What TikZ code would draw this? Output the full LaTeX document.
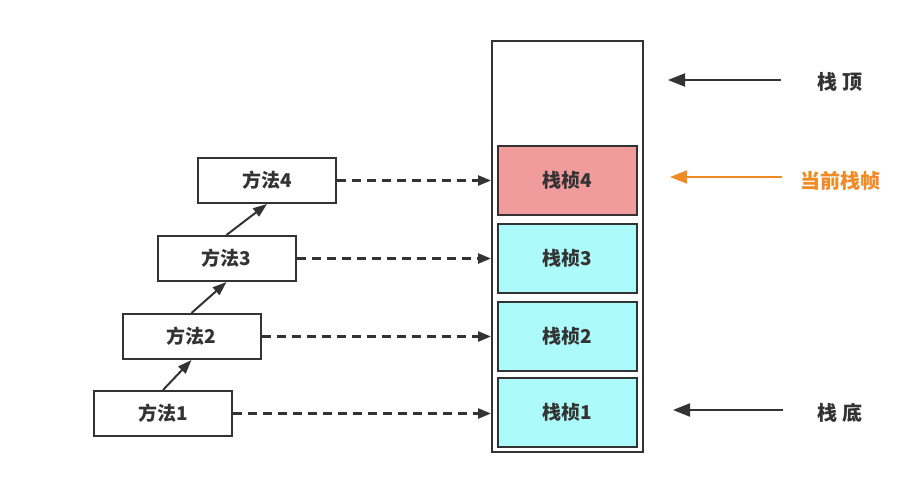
\documentclass[tikz,border=0pt]{standalone}
\usepackage{fontspec}
\setmainfont{Noto Sans CJK SC}
\usepackage{tikz}
\usetikzlibrary{arrows.meta,positioning}
\definecolor{skLine}{HTML}{333333}
\definecolor{skFrame}{HTML}{ADFAFA}
\definecolor{skCurrent}{HTML}{F09C9C}
\definecolor{skOrange}{HTML}{F08A24}
\tikzset{
  method/.style={
    draw=skLine, line width=2pt, fill=white, minimum width=138pt, minimum height=45pt,
    font=\fontsize{19}{22}\selectfont\bfseries, text=skLine
  },
  frame/.style={
    draw=skLine, line width=2pt, fill=skFrame, minimum width=139pt, minimum height=69pt,
    font=\fontsize{19}{22}\selectfont\bfseries, text=skLine
  },
  stackbox/.style={draw=skLine, line width=2pt, minimum width=151pt, minimum height=411pt},
  tag/.style={font=\fontsize{20}{24}\selectfont\bfseries, text=skLine},
  call/.style={-{Triangle[length=14pt,width=10pt]}, line width=2pt, skLine},
  link/.style={-{Triangle[length=13pt,width=10pt]}, line width=2.5pt, skLine, dash pattern=on 9pt off 6pt},
  pointer/.style={-{Triangle[length=17pt,width=13pt]}, line width=2pt, skLine}
}
\begin{document}
\begin{tikzpicture}[x=1pt,y=-1pt]
  \useasboundingbox (0,0) rectangle (898,493);
  % stack and its frames
  \node[stackbox] (stack) at (567.5,246.5) {};
  \node[frame, fill=skCurrent] (f4) at (567.5,180.5) {栈桢4};
  \node[frame] (f3) at (567.5,258) {栈桢3};
  \node[frame] (f2) at (567.5,336.5) {栈桢2};
  \node[frame] (f1) at (567.5,412.5) {栈桢1};
  % methods
  \node[method] (m4) at (267,180.5) {方法4};
  \node[method] (m3) at (226.5,258.5) {方法3};
  \node[method] (m2) at (191.5,336.5) {方法2};
  \node[method] (m1) at (163,413.5) {方法1};
  \draw[call] (m1.north) -- (m2.south);
  \draw[call] (m2.north) -- (m3.south);
  \draw[call] (m3.north) -- (m4.south);
  \foreach \i in {1,...,4}
    \draw[link] (m\i.east) -- (stack.west |- m\i.east);
  % pointers on the right
  \node[tag] (top) at (840,82) {栈 顶};
  \node[tag, text=skOrange] (cur) at (840,181) {当前栈帧};
  \node[tag] (bottom) at (840,413) {栈 底};
  \coordinate (topend) at (668,80);
  \coordinate (curend) at (670,177);
  \coordinate (bottomend) at (673,410);
  \draw[pointer] (top.west |- topend) ++(-33,0) -- (topend);
  \draw[pointer, skOrange] (cur.west |- curend) ++(-14,0) -- (curend);
  \draw[pointer] (bottom.west |- bottomend) ++(-31,0) -- (bottomend);
\end{tikzpicture}
\end{document}
